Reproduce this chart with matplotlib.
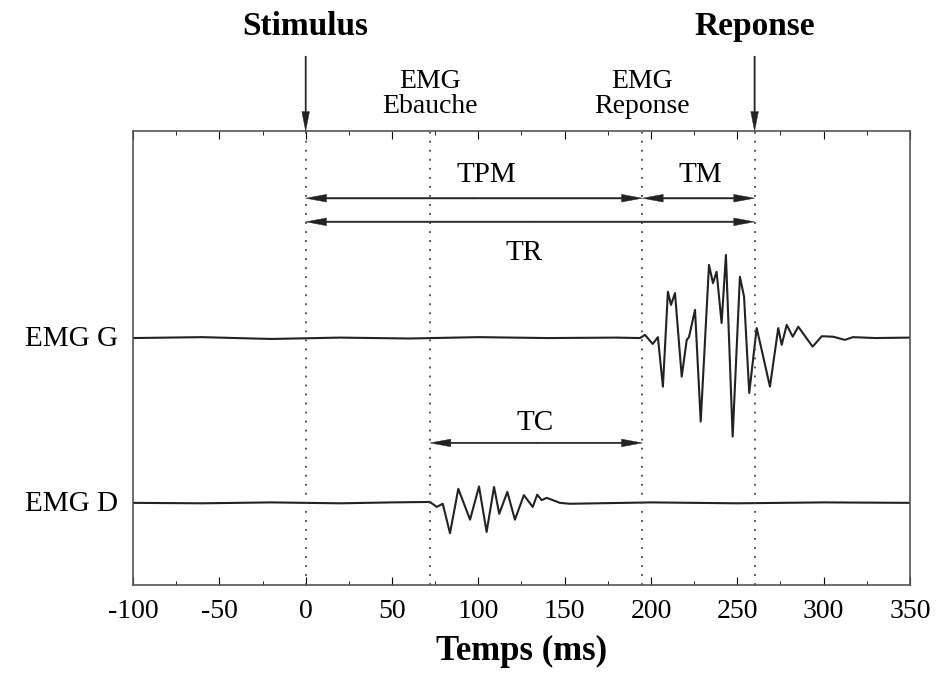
import numpy as np
import matplotlib.pyplot as plt

# EMG G signal: temps (ms), amplitude relative
emg_g_t = [-100, -60, -20, 20, 60, 100, 140, 180, 193.6, 196.5, 201.0, 204.0, 206.9, 209.8,
           211.6, 213.9, 217.8, 220.7, 222.0, 225.5, 228.8, 233.6, 235.9, 238.0,
           240.9, 243.4, 247.3, 251.5, 253.9, 256.9, 261.2, 264.1, 268.9, 273.7,
           275.7, 278.6, 282.1, 285.3, 293.6, 298.9, 305.4, 312.3, 317.0, 330, 350]
emg_g_a = [0.0, 0.2, -0.2, 0.1, -0.1, 0.2, 0.0, 0.1, 0.0, 0.7, -1.3, 0.2, -10.7, 10.2,
           7.3, 9.9, -8.5, -0.4, 0.2, 6.2, -18.4, 16.1, 12.1, 14.6,
           3.3, 18.3, -21.7, 13.5, 9.1, -12.1, 2.2, -2.6, -10.7, 2.2,
           -1.5, 2.9, 0.3, 2.5, -1.9, 0.4, 0.3, -0.4, 0.2, 0.0, 0.1]

# EMG D signal
emg_d_t = [-100, -60, -20, 20, 50, 72.0, 75.9, 79.4, 83.6, 88.4, 95.2, 100.4, 104.8,
           109.1, 112.1, 116.8, 121.2, 126.4, 131.5, 134.1, 136.7, 139.6, 147.3,
           153.1, 200, 250, 300, 350]
emg_d_a = [0.0, -0.1, 0.1, -0.1, 0.1, 0.2, -0.9, -0.2, -6.7, 3.1, -3.7, 3.6, -6.4,
           3.5, -2.4, 2.4, -3.7, 1.7, -0.9, 1.8, 0.6, 1.1, 0.0,
           -0.2, 0.1, -0.1, 0.1, 0.0]

base_g = 54.4
base_d = 18.1

# instants (ms)
t_stim = 0
t_ebauche = 72
t_emg_rep = 195
t_rep = 260

plt.rcParams['font.family'] = ['Liberation Serif', 'DejaVu Serif']
plt.rcParams['axes.unicode_minus'] = False

fig = plt.figure(figsize=(9.36, 6.74), dpi=100)
ax = fig.add_axes([0.1421, 0.1320, 0.8301, 0.6736])

ax.plot(emg_g_t, np.array(emg_g_a) + base_g, color='#222222', lw=1.5)
ax.plot(emg_d_t, np.array(emg_d_a) + base_d, color='#222222', lw=1.5)

for t in [t_stim, t_ebauche, t_emg_rep, t_rep]:
    ax.axvline(t, color='#444444', linestyle=(0, (1, 4)), lw=1.3)

ax.set_xlim(-100, 350)
ax.set_ylim(0, 100)
ax.set_yticks([])
ax.set_xticks(np.arange(-100, 351, 50))
ax.set_xticks(np.arange(-100, 351, 25), minor=True)
ax.tick_params(axis='x', which='both', direction='in', top=True, labelsize=20, pad=10)
ax.tick_params(axis='x', which='major', length=6)
ax.tick_params(axis='x', which='minor', length=3)
for s in ax.spines.values():
    s.set_color('#555555')
    s.set_linewidth(1.2)

ax.set_xlabel('Temps (ms)', fontsize=25, fontweight='bold', labelpad=8)

# arrow style: simple filled polygon, tip lands exactly on the point
arr = dict(width=1.1, headwidth=5.5, headlength=15, color='#222222', lw=0.3, shrink=0)


def double_arrow(t0, t1, y):
    mid = (t0 + t1) / 2
    ax.annotate('', xy=(t0, y), xytext=(mid, y), arrowprops=arr)
    ax.annotate('', xy=(t1, y), xytext=(mid, y), arrowprops=arr)


double_arrow(t_stim, t_emg_rep, 85.2)
double_arrow(t_emg_rep, t_rep, 85.2)
double_arrow(t_stim, t_rep, 80.0)
double_arrow(t_ebauche, t_emg_rep, 31.3)

ax.text(104.8, 88.8, 'TPM', ha='center', va='baseline', fontsize=21)
ax.text(228.4, 88.8, 'TM', ha='center', va='baseline', fontsize=21)
ax.text(126.4, 71.6, 'TR', ha='center', va='baseline', fontsize=21)
ax.text(132.8, 34.1, 'TC', ha='center', va='baseline', fontsize=21)

# signal labels
ax.text(-0.0193, 0.5264, 'EMG G', transform=ax.transAxes, ha='right',
        va='baseline', fontsize=21)
ax.text(-0.0193, 0.163, 'EMG D', transform=ax.transAxes, ha='right',
        va='baseline', fontsize=21)

# top labels and arrows
down = dict(width=0.9, headwidth=5.5, headlength=14, color='#222222', lw=0.3, shrink=0)
for t, lab in [(t_stim, 'Stimulus'), (t_rep, 'Reponse')]:
    ax.annotate('', xy=(t, 1.0), xycoords=('data', 'axes fraction'),
                xytext=(t, 1.165), textcoords=('data', 'axes fraction'),
                arrowprops=down, annotation_clip=False)
    ax.text(t, 1.2115, lab, transform=ax.get_xaxis_transform(), ha='center',
            va='baseline', fontsize=24, fontweight='bold')

for t, lab in [(t_ebauche, 'EMG\nEbauche'), (t_emg_rep, 'EMG\nReponse')]:
    ax.text(t, 1.0815, lab, transform=ax.get_xaxis_transform(), ha='center',
            va='center', fontsize=20, linespacing=0.97)

fig.savefig('out.png', dpi=100)
